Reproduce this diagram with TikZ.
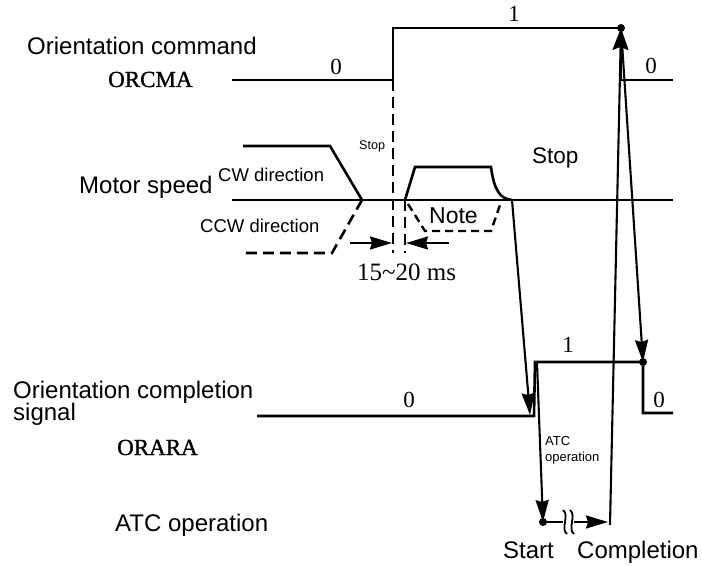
\documentclass[tikz,border=0pt]{standalone}
\usepackage{fontspec}
\setmainfont{Liberation Serif}
\newfontfamily\arialf{Liberation Sans}
\newfontfamily\serf[FakeBold=1.2]{Liberation Serif}
\usetikzlibrary{arrows.meta}
\begin{document}
\begin{tikzpicture}[x=1bp,y=-1bp,
  sig/.style={line width=2.6bp, line join=miter},
  dsig/.style={line width=2.6bp, dash pattern=on 11bp off 6bp},
  conn/.style={line width=2.1bp, -{Stealth[length=22bp,width=13bp,inset=2bp]}},
  dotc/.style={circle, fill, inner sep=0pt, minimum size=8bp},
  lab/.style={font=\arialf\fontsize{24bp}{26bp}\selectfont, inner sep=0pt, anchor=base west},
  mid/.style={font=\arialf\fontsize{18.5bp}{20bp}\selectfont, inner sep=0pt, anchor=base west},
  sml/.style={font=\arialf\fontsize{13bp}{14bp}\selectfont, inner sep=0pt, anchor=base west},
  sern/.style={font=\serf\fontsize{23bp}{24bp}\selectfont, inner sep=0pt, anchor=base west},
  num/.style={font=\fontsize{23bp}{24bp}\selectfont, inner sep=0pt}]
\useasboundingbox (0,0) rectangle (702,566);

% ---- labels
\node[lab] (t1) at (27,55) {Orientation command};
\node[sern] (orcma) at (108,87) {ORCMA};
\node[lab] (t2) at (79,194) {Motor speed};
\node[mid] (cw) at (218,182) {CW direction};
\node[mid] (ccw) at (200,232) {CCW direction};
\node[font=\arialf\fontsize{12.6bp}{14bp}\selectfont, inner sep=0pt, anchor=base west] (stop1) at (359,150) {Stop};
\node[font=\arialf\fontsize{22.5bp}{24bp}\selectfont, inner sep=0pt, anchor=base west] (stop2) at (532,164) {Stop};
\node[font=\arialf\fontsize{23bp}{24bp}\selectfont, inner sep=0pt, anchor=base west] (note) at (429,223) {Note};
\node[font=\fontsize{25bp}{26bp}\selectfont, inner sep=0pt, anchor=base west] (ms) at (357,280) {15\textasciitilde 20 ms};
\node[lab] (t3) at (13,398) {Orientation completion};
\node[lab] (t4) at (13,420) {signal};
\node[sern] (orara) at (117,455) {ORARA};
\node[lab] (t5) at (115,531) {ATC operation};
\node[sml] (atc1) at (545,445) {ATC};
\node[sml] (atc2) at (545,461) {operation};
\node[lab] (start) at (503,558) {Start};
\node[lab] (compl) at (577,558) {Completion};

% ---- level numbers
\node[num] (n0a) at (336,67) {0};
\node[num] (n1a) at (514,14) {1};
\node[num] (n0b) at (651,66) {0};
\node[num] (n1b) at (568,345) {1};
\node[num] (n0c) at (409,400) {0};
\node[num] (n0d) at (659,400) {0};

% ---- points
\coordinate (A0) at (232,80);
\coordinate (Ar) at (393,80);
\coordinate (Aru) at (393,28);
\coordinate (Atop) at (621,28);
\coordinate (Adn) at (621,80);
\coordinate (Aend) at (673,80);

\coordinate (Sp0) at (232,200);
\coordinate (Spend) at (673,200);
\coordinate (CW1) at (243,146);
\coordinate (CW2) at (330,146);
\coordinate (X) at (362,200);
\coordinate (CC1) at (332,253);
\coordinate (CC2) at (243,253);
\coordinate (D1b) at (393,253);
\coordinate (D2t) at (405,200);
\coordinate (D2b) at (405,253);
\coordinate (R1) at (415,167);
\coordinate (R2) at (491,167);
\coordinate (Stp) at (512,200);
\coordinate (N1) at (408,204);
\coordinate (N2) at (425,231);
\coordinate (N3) at (491,231);
\coordinate (N4) at (500,205);
\coordinate (M1) at (350,243);
\coordinate (M2) at (392,243);
\coordinate (M3) at (449,243);
\coordinate (M4) at (406,243);

\coordinate (B0) at (257,416);
\coordinate (Br) at (534,416);
\coordinate (Bru) at (535,362);
\coordinate (Btop) at (643,362);
\coordinate (Bdn) at (643,413);
\coordinate (Bend) at (673,413);
\coordinate (Bhit) at (530,415);
\coordinate (Bsrc) at (537,363);

\coordinate (Cst) at (543,522);
\coordinate (Ccp) at (608,522);
\coordinate (Cbot) at (610,525);

% ---- ORCMA
\draw[sig] (A0) -- (Ar) -- (Aru) -- (Atop) -- (Adn) -- (Aend);

% ---- motor speed
\draw[sig] (Sp0) -- (Spend);
\draw[sig] (CW1) -- (CW2) -- (X);
\draw[dsig] (X) -- (CC1) -- (CC2);
\draw[dsig] (Ar) -- (D1b);
\draw[dsig] (D2t) -- (D2b);
\draw[sig] (D2t) -- (R1) -- (R2) .. controls (494,190) and (500,199) .. (Stp);
\draw[line width=2.4bp, dash pattern=on 8bp off 5bp] (N1) -- (N2) -- (N3) -- (N4);
\draw[conn] (M1) -- (M2);
\draw[conn] (M3) -- (M4);

% ---- ORARA
\draw[sig] (B0) -- (Br) -- (Bru) -- (Btop) -- (Bdn) -- (Bend);

% ---- causal connectors
\draw[conn] (Stp) -- (Bhit);
\draw[conn] (Atop) -- (Btop);
\draw[conn] (Bsrc) -- (Cst);
\draw[line width=2.1bp, -{Stealth[length=22bp,width=16bp,inset=3bp]}] (Cbot) -- (Atop);
\draw[conn] (Cst) -- (Ccp);

% break mark on the ATC arrow
\draw[fill=white, draw=white] (562,510) rectangle (576,534);
\draw[line width=1.8bp] (563,510) .. controls (570,515) and (560,529) .. (567,534);
\draw[line width=1.8bp] (570,510) .. controls (577,515) and (567,529) .. (574,534);
\draw[line width=2.1bp] (Cst) -- (563,522);
\draw[line width=2.1bp] (574,522) -- (588,522);

% ---- dots
\node[dotc] (dA) at (Atop) {};
\node[dotc] (dB) at (Btop) {};
\node[dotc] (dC) at (Cst) {};
\end{tikzpicture}
\end{document}
